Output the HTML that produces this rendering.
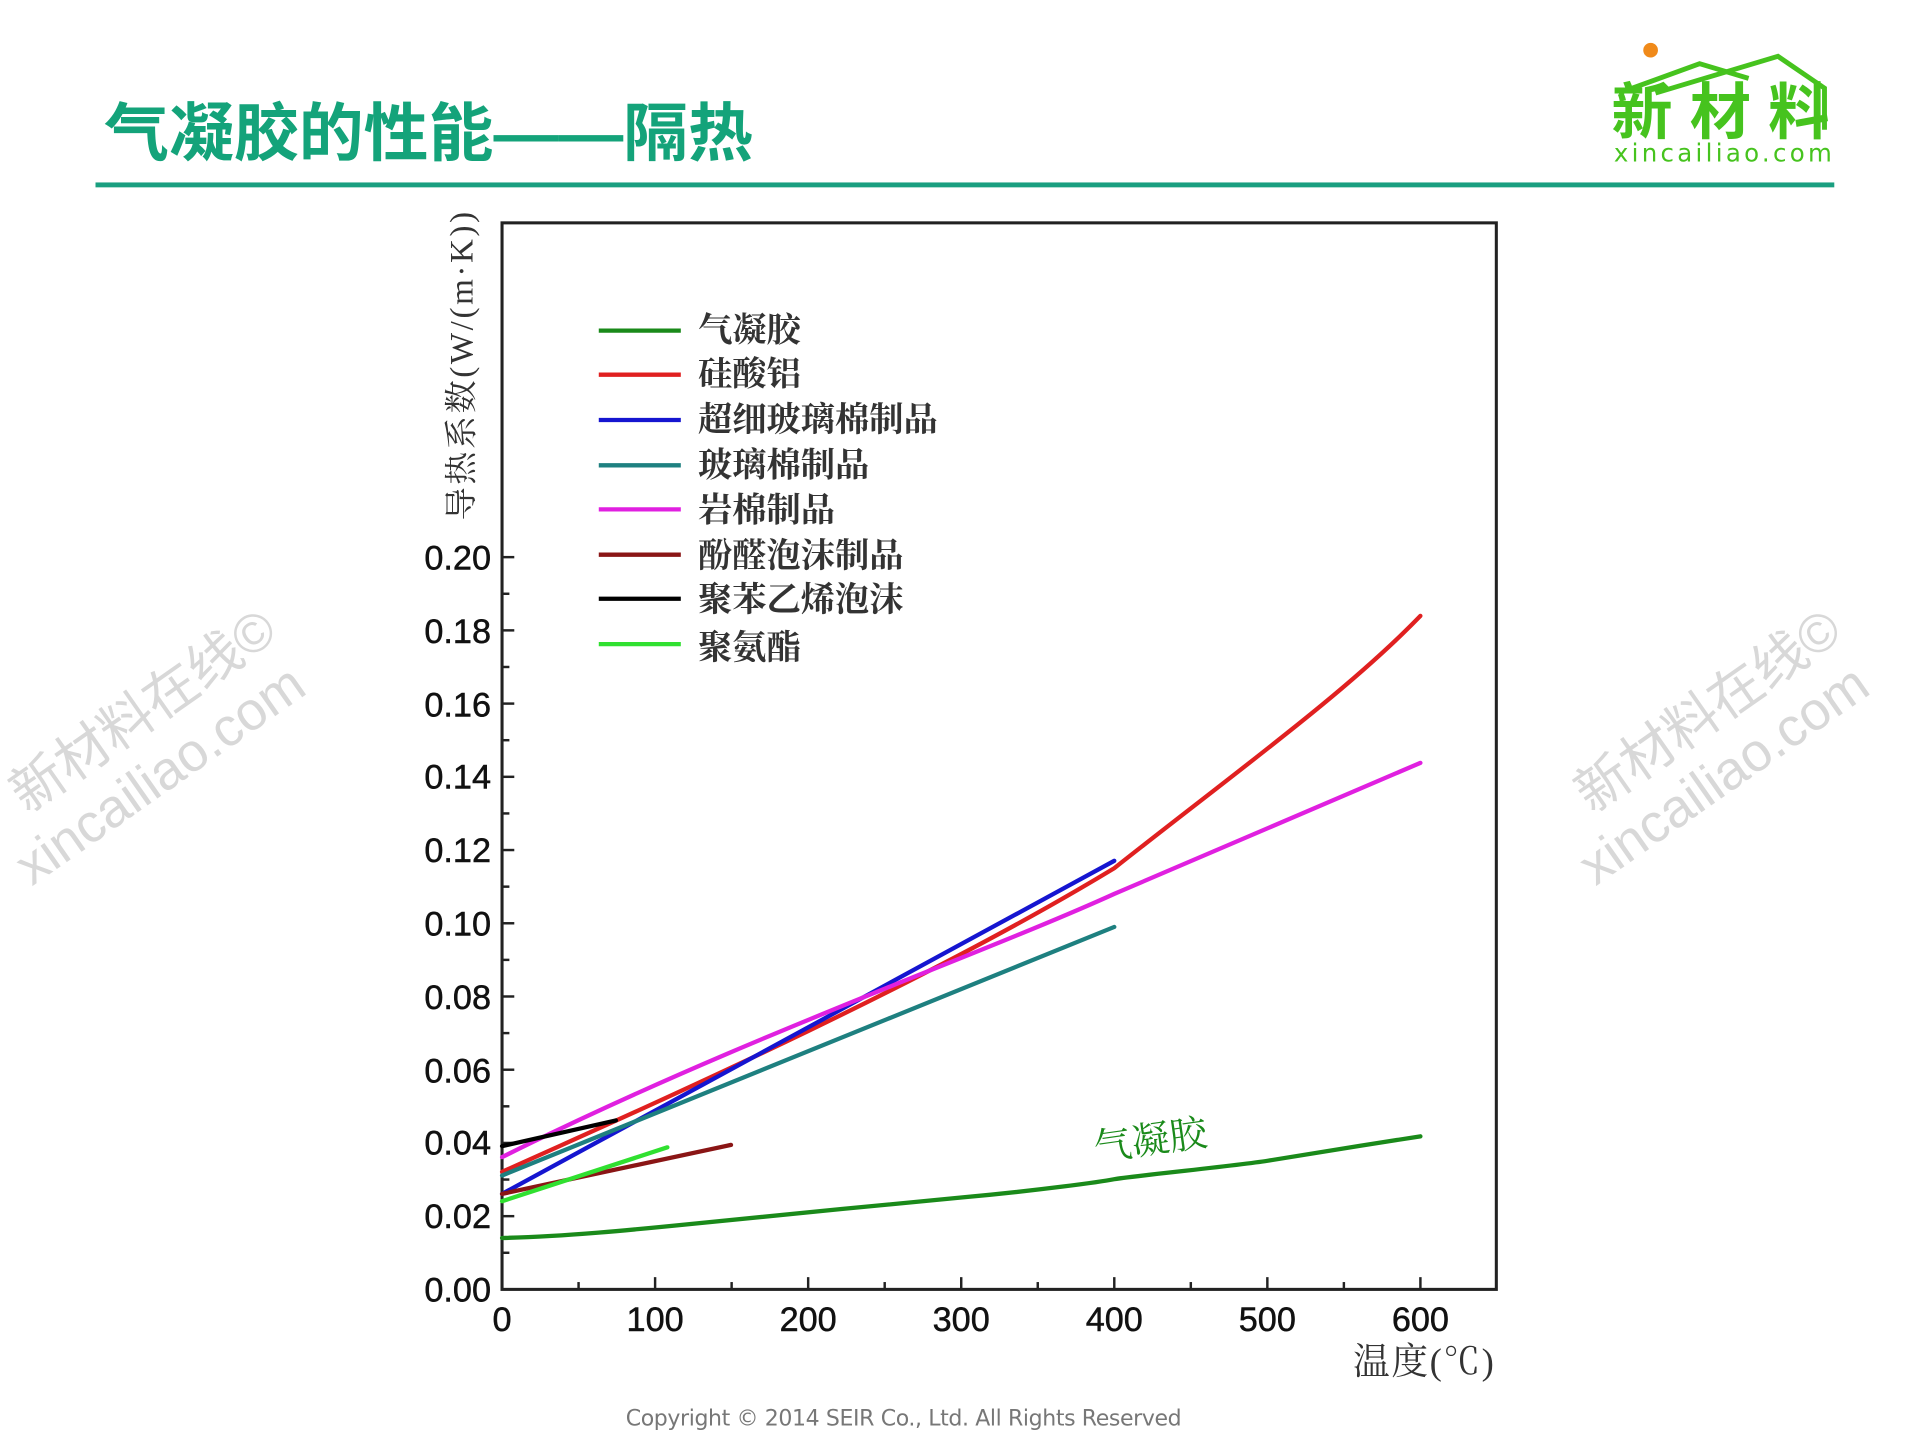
<!DOCTYPE html>
<html><head><meta charset="utf-8"><style>
html,body{margin:0;padding:0;background:#fff;}
svg{display:block;}
</style></head><body>
<svg width="1920" height="1440" viewBox="0 0 1568 1176" xmlns="http://www.w3.org/2000/svg">
<rect width="1568" height="1176" fill="#fff"/>
<!-- watermarks -->
<g fill="#d8d8d8" font-family="Liberation Sans, Noto Sans CJK SC, sans-serif" font-size="44">
<text transform="translate(22,665) rotate(-35)">新材料在线©</text>
<text transform="translate(26,724) rotate(-35)">xincailiao.com</text>
<text transform="translate(1300,665) rotate(-35)">新材料在线©</text>
<text transform="translate(1303,724) rotate(-35)">xincailiao.com</text>
</g>
<!-- title -->
<text x="85" y="127" font-family="Liberation Sans, Noto Sans CJK SC, sans-serif" font-size="52" font-weight="bold" fill="#14a37a" textLength="530" lengthAdjust="spacingAndGlyphs">气凝胶的性能——隔热</text>
<rect x="78" y="149" width="1420" height="4" fill="#1a9f80"/>
<!-- logo -->
<circle cx="1348" cy="41" r="6" fill="#f08a1a"/>
<g fill="none" stroke="#46c31e" stroke-width="4">
<polyline points="1322,76 1388,52 1428,64"/>
<polyline points="1352,76 1452,46 1490,72 1490,106"/>
</g>
<text x="1316" y="109" font-family="Noto Sans CJK SC, sans-serif" font-size="50" font-weight="bold" fill="#46c31e" textLength="178">新材料</text>
<text x="1318" y="132" font-family="DejaVu Sans, sans-serif" font-size="20" fill="#46c31e" textLength="178">xincailiao.com</text>
<!-- plot frame -->
<rect x="410" y="182" width="812" height="871" fill="none" stroke="#222" stroke-width="2.5"/>
<g stroke="#222" stroke-width="2">
<line x1="535" y1="1053" x2="535" y2="1043"/><line x1="660" y1="1053" x2="660" y2="1043"/>
<line x1="785" y1="1053" x2="785" y2="1043"/><line x1="910" y1="1053" x2="910" y2="1043"/>
<line x1="1035" y1="1053" x2="1035" y2="1043"/><line x1="1160" y1="1053" x2="1160" y2="1043"/>
<line x1="472.5" y1="1053" x2="472.5" y2="1047"/><line x1="597.5" y1="1053" x2="597.5" y2="1047"/>
<line x1="722.5" y1="1053" x2="722.5" y2="1047"/><line x1="847.5" y1="1053" x2="847.5" y2="1047"/>
<line x1="972.5" y1="1053" x2="972.5" y2="1047"/><line x1="1097.5" y1="1053" x2="1097.5" y2="1047"/>
<line x1="410" y1="993.2" x2="420" y2="993.2"/><line x1="410" y1="933.4" x2="420" y2="933.4"/>
<line x1="410" y1="873.6" x2="420" y2="873.6"/><line x1="410" y1="813.8" x2="420" y2="813.8"/>
<line x1="410" y1="754" x2="420" y2="754"/><line x1="410" y1="694.2" x2="420" y2="694.2"/>
<line x1="410" y1="634.4" x2="420" y2="634.4"/><line x1="410" y1="574.6" x2="420" y2="574.6"/>
<line x1="410" y1="514.8" x2="420" y2="514.8"/><line x1="410" y1="455" x2="420" y2="455"/>
<line x1="410" y1="1023.1" x2="416" y2="1023.1"/><line x1="410" y1="963.3" x2="416" y2="963.3"/>
<line x1="410" y1="903.5" x2="416" y2="903.5"/><line x1="410" y1="843.7" x2="416" y2="843.7"/>
<line x1="410" y1="783.9" x2="416" y2="783.9"/><line x1="410" y1="724.1" x2="416" y2="724.1"/>
<line x1="410" y1="664.3" x2="416" y2="664.3"/><line x1="410" y1="604.5" x2="416" y2="604.5"/>
<line x1="410" y1="544.7" x2="416" y2="544.7"/><line x1="410" y1="484.9" x2="416" y2="484.9"/>
</g>
<g font-family="Liberation Sans, sans-serif" font-size="28" fill="#111" text-anchor="end" stroke="#111" stroke-width="0.4">
<text x="401" y="1063">0.00</text><text x="401" y="1003">0.02</text><text x="401" y="943">0.04</text>
<text x="401" y="884">0.06</text><text x="401" y="824">0.08</text><text x="401" y="764">0.10</text>
<text x="401" y="704">0.12</text><text x="401" y="644">0.14</text><text x="401" y="585">0.16</text>
<text x="401" y="525">0.18</text><text x="401" y="465">0.20</text>
</g>
<g font-family="Liberation Sans, sans-serif" font-size="28" fill="#111" text-anchor="middle" stroke="#111" stroke-width="0.4">
<text x="410" y="1087">0</text><text x="535" y="1087">100</text><text x="660" y="1087">200</text>
<text x="785" y="1087">300</text><text x="910" y="1087">400</text><text x="1035" y="1087">500</text>
<text x="1160" y="1087">600</text>
</g>
<text x="1220" y="1122" text-anchor="end" font-family="Liberation Serif, Noto Serif CJK SC, serif" font-size="30" fill="#333" textLength="115">温度(℃)</text>
<text transform="translate(386,425) rotate(-90)" font-family="Liberation Serif, Noto Serif CJK SC, serif" font-size="27" fill="#333" textLength="252">导热系数(W/(m·K))</text>
<!-- legend -->
<g stroke-width="3.5">
<line x1="489" y1="270" x2="556" y2="270" stroke="#1a8a1a"/>
<line x1="489" y1="306" x2="556" y2="306" stroke="#e02020"/>
<line x1="489" y1="343" x2="556" y2="343" stroke="#1515d0"/>
<line x1="489" y1="380" x2="556" y2="380" stroke="#1e8080"/>
<line x1="489" y1="416" x2="556" y2="416" stroke="#e020e0"/>
<line x1="489" y1="453" x2="556" y2="453" stroke="#8a1515"/>
<line x1="489" y1="489" x2="556" y2="489" stroke="#000"/>
<line x1="489" y1="526" x2="556" y2="526" stroke="#30e030"/>
</g>
<g font-family="Noto Serif CJK SC, serif" font-size="28" font-weight="bold" fill="#333">
<text x="570" y="279">气凝胶</text><text x="570" y="315">硅酸铝</text>
<text x="570" y="352">超细玻璃棉制品</text><text x="570" y="389">玻璃棉制品</text>
<text x="570" y="426">岩棉制品</text><text x="570" y="463">酚醛泡沫制品</text>
<text x="570" y="499">聚苯乙烯泡沫</text><text x="570" y="538">聚氨酯</text>
</g>
<!-- curves -->
<g fill="none" stroke-width="3.5" stroke-linecap="round">
<path d="M410,1011 C460,1010 520,1004 560,1000 S720,984 785,978 S900,965 910,963 S1010,952 1035,948 S1120,934 1160,928" stroke="#1a8a1a"/>
<path d="M410,957 C560,890 760,800 910,709 C1010,630 1100,565 1160,503" stroke="#e02020"/>
<path d="M410,975 L910,703" stroke="#1515d0"/>
<path d="M410,960 L910,757" stroke="#1e8080"/>
<path d="M410,945 C600,850 800,780 910,730 L1160,623" stroke="#e020e0"/>
<path d="M410,975 L597,935" stroke="#8a1515"/>
<path d="M410,936 L503,915" stroke="#000"/>
<path d="M410,981 L545,937" stroke="#30e030"/>
</g>
<text transform="translate(895,948) rotate(-8)" font-family="Noto Serif CJK SC, serif" font-size="31" fill="#1a8a1a">气凝胶</text>
<text x="738" y="1164" text-anchor="middle" font-family="DejaVu Sans, Liberation Sans, sans-serif" font-size="18" fill="#777" textLength="454">Copyright © 2014  SEIR Co., Ltd. All Rights Reserved</text>
</svg>
</body></html>
